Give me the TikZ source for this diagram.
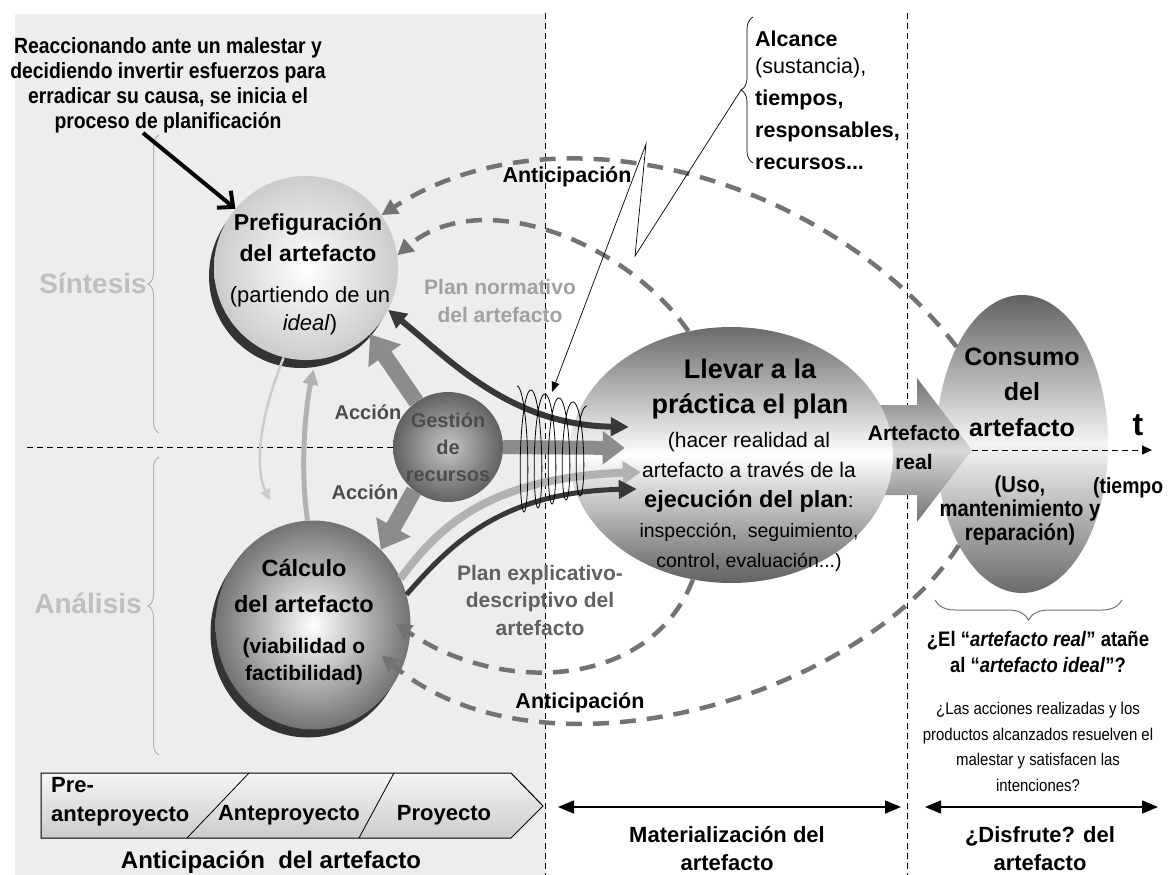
\documentclass[tikz,border=0pt]{standalone}
\usepackage{fontspec}
\setmainfont{Liberation Sans}
\newfontfamily\narrowfont[FakeStretch=0.88]{Liberation Sans}
\usetikzlibrary{arrows.meta,shapes.geometric,positioning,shadows,calc,decorations.pathreplacing}

\definecolor{bggray}{gray}{0.93}
\definecolor{shadowgray}{gray}{0.2}
\definecolor{arrowgray}{gray}{0.55}
\definecolor{dashgray}{gray}{0.45}
\definecolor{palegray}{gray}{0.8}
\definecolor{softgray}{gray}{0.7}
\definecolor{darkline}{gray}{0.22}
\definecolor{textgray}{gray}{0.3}
\definecolor{plangray}{gray}{0.63}
\definecolor{explgray}{gray}{0.38}
\definecolor{sidegray}{gray}{0.75}

\begin{document}
\begin{tikzpicture}[x=1pt, y=-1pt,
    every node/.style = {inner sep=0pt},
    sphere/.style   = {circle, draw=none},
    egg/.style      = {ellipse, draw=none},
    crescent/.style = {drop shadow={shadow xshift=-5pt, shadow yshift=-8pt,
                        fill=shadowgray, opacity=1}},
    guide/.style    = {draw=black, line width=1pt, dash pattern=on 6pt off 4pt},
    curly/.style    = {decorate, decoration={brace, amplitude=#1}},
    antic/.style    = {draw=dashgray, line width=4.5pt, dash pattern=on 16pt off 11pt,
                        -{Triangle[length=16pt,width=16pt]}},
    fatarrow/.style = {draw=arrowgray, line width=16pt, -{Triangle[length=26pt,width=38pt]}},
    headtxt/.style  = {align=center, font=\fontsize{23}{31}\selectfont\bfseries},
    subtxt/.style   = {align=center, font=\fontsize{22}{28}\selectfont},
    acttxt/.style   = {font=\fontsize{20}{24}\selectfont\bfseries, text=textgray},
    plantxt/.style  = {align=center, font=\fontsize{21}{28}\selectfont\bfseries},
    antictxt/.style = {font=\fontsize{21.5}{26}\selectfont\bfseries},
    sidetxt/.style  = {font=\fontsize{28}{30}\selectfont\bfseries, text=sidegray},
    narrowtxt/.style = {align=center, font=\narrowfont\fontsize{22}{25}\selectfont\bfseries},
    steptxt/.style  = {font=\fontsize{22}{29}\selectfont\bfseries},
  ]
  \useasboundingbox (0,0) rectangle (1173,875);
  \clip (0,0) rectangle (1173,875);
  \fill[bggray] (15,14) rectangle (545,875);
  \draw[guide] (545,13) -- (545,875);
  \draw[guide] (907,13) -- (907,875);

  % side labels
  \node[sidetxt] (sintesis) at (93,283) {Síntesis};
  \node[sidetxt] (analisis) at (88,603) {Análisis};
  \draw[draw=softgray, line width=1pt, curly=11pt] (159,433) -- (159,135);
  \draw[draw=softgray, line width=1pt, curly=11pt] (159,755) -- (159,457);

  % Define nodes
  \node[egg, minimum width=172pt, minimum height=298pt, shade,
        top color=black!62, bottom color=black!58, middle color=black!4] (cons) at (1022,444) {};
  \shade[top color=black!55, bottom color=black!55, middle color=black!15]
        (880,405) -- (917,405) -- (917,378) -- (972,450) -- (917,522) -- (917,495) -- (880,495) -- cycle;
  \node[egg, minimum width=324pt, minimum height=256pt, shade,
        top color=black!58, bottom color=black!62, middle color=white] (llevar) at (731,455) {};
  \node[sphere, crescent, minimum size=184pt, shade,
        inner color=white, outer color=black!20] (pref) at (306,268) {};
  \node[egg, crescent, minimum width=195pt, minimum height=209pt, shade,
        inner color=white, outer color=black!55] (calc) at (313,625) {};
  \node[sphere, minimum size=110pt, shade,
        inner color=black!22, outer color=black!62] (gest) at (448,447) {};
  \draw[guide] (27,447) -- (gest.west);

  % anticipation loops
  \begin{scope}[every path/.style=antic]
    \path (cons.124) .. controls (830,180) and (560,100) .. (pref.35);
    \path (llevar.109) .. controls (625,240) and (480,185) .. (pref.8);
    \path[shorten >=-18pt] (llevar.253) .. controls (650,690) and (500,695) .. (calc.-5);
    \path[shorten >=-25pt] (cons.238) .. controls (860,700) and (540,790) .. (calc.-28);
  \end{scope}

  % connect all nodes defined above
  \draw[fatarrow] (gest.125) -- (pref.-46);
  \draw[fatarrow] (gest.232) -- (calc.48);
  \draw[draw=palegray, line width=2.5pt, shorten >=28pt, -{Triangle[length=11pt,width=11pt]}]
        (pref.256) .. controls (258,420) and (255,470) .. (calc.107);
  \draw[draw=softgray, line width=5pt, shorten >=10pt, -{Triangle[length=15pt,width=15pt]}]
        (calc.93) .. controls (300,470) and (305,410) .. (pref.276);
  \draw[draw=arrowgray, line width=14pt, -{Triangle[length=22pt,width=32pt]}]
        (gest.east) -- ($(llevar.west)+(56,-7)$);
  \draw[draw=darkline, line width=6pt, {Triangle[length=18pt,width=18pt]}-{Triangle[length=18pt,width=18pt]}]
        (pref.-27) .. controls (450,360) and (510,425) .. ($(llevar.west)+(60,-28)$);
  \draw[draw=softgray, line width=8pt, -{Triangle[length=18pt,width=22pt]}]
        (calc.28) .. controls (440,525) and (490,478) .. ($(llevar.west)+(72,17)$);
  \draw[draw=darkline, line width=5pt, -{Triangle[length=18pt,width=18pt]}]
        (calc.18) .. controls (450,545) and (500,492) .. ($(llevar.west)+(68,34)$);

  % coil
  \draw[line width=0.8pt] plot[domain=0:5, samples=361, smooth, variable=\u]
        ({517+14*\u+7*sin(360*\u)}, {450-(64-4*\u)*cos(360*\u)});

  % callout to the coil
  \node[align=left, anchor=west, font=\fontsize{21.5}{32}\selectfont\bfseries] (alcance) at (755,100)
        {Alcance\\[-5pt]{\mdseries (sustancia),}\\tiempos,\\responsables,\\recursos...};
  \draw[line width=0.7pt, curly=12pt] (753,163) -- (753,17);
  \coordinate (cusp) at (741,90);
  \coordinate (zigA) at (635,256);
  \coordinate (zigB) at (646,144);
  \coordinate (coiltip) at (552,392);
  \draw[line width=0.7pt, -{Triangle[length=10pt,width=8pt]}] (cusp) -- (zigA) -- (zigB) -- (coiltip);

  % time axis
  \coordinate (arttip) at (972,450);
  \coordinate (tend) at (1152,450);
  \draw[guide, -{Triangle[length=10pt,width=9pt]}] (arttip) -- (tend);
  \node[font=\fontsize{32}{34}\selectfont\bfseries] (tmark) at (1138,425) {t};
  \node[narrowtxt, anchor=west] (tiempo) at (1093,488) {(tiempo};

  % texts
  \node[narrowtxt] (reacc) at (168,85)
        {Reaccionando ante un malestar y\\decidiendo invertir esfuerzos para\\erradicar su causa, se inicia el\\proceso de planificación};
  \draw[line width=4pt, -{Straight Barb[length=12pt,width=22pt]}] ($(reacc.south)+(-25,0)$) -- (pref.140);

  \node[headtxt] (preftitle) at ($(pref)+(2,-30)$) {Prefiguración\\del artefacto};
  \node[subtxt] (prefsub) at ($(pref)+(4,43)$) {(partiendo de un\\\textit{ideal})};
  \node[headtxt, font=\fontsize{23.5}{36}\selectfont\bfseries] (calctitle) at ($(calc)+(-9,-39)$) {Cálculo\\del artefacto};
  \node[headtxt, font=\fontsize{21}{27}\selectfont\bfseries] (calcsub) at ($(calc)+(-9,37)$) {(viabilidad o\\factibilidad)};
  \node[align=center, font=\fontsize{20}{27}\selectfont\bfseries, text=textgray] (gesttxt) at (gest) {Gestión\\de\\recursos};
  \node[acttxt] (accionA) at (368,412) {Acción};
  \node[acttxt] (accionB) at (365,492) {Acción};

  \node[plantxt, text=plangray] (normativo) at (500,301) {Plan normativo\\del artefacto};
  \node[plantxt, font=\fontsize{21}{27.5}\selectfont\bfseries, text=explgray] (explicativo) at (540,600)
        {Plan explicativo-\\descriptivo del\\artefacto};
  \node[antictxt] (anticU) at (567,177) {Anticipación};
  \node[antictxt] (anticL) at (580,703) {Anticipación};

  \node[align=center, font=\fontsize{27}{35}\selectfont\bfseries] (llevarA) at ($(llevar)+(19,-66)$)
        {Llevar a la\\práctica el plan};
  \node[align=center, font=\fontsize{21}{30}\selectfont] (llevarB) at ($(llevar)+(18,47)$)
        {(hacer realidad al\\artefacto a través de la\\{\fontsize{23.5}{30}\selectfont\bfseries ejecución del plan}:\\
         {\fontsize{19.5}{30}\selectfont inspección,\ \ seguimiento,}\\{\fontsize{19.5}{30}\selectfont control, evaluación...)}};
  \node[align=center, font=\fontsize{21}{29}\selectfont\bfseries] (artreal) at (914,447) {Artefacto\\real};

  \node[align=center, font=\fontsize{25}{35.5}\selectfont\bfseries] (consA) at ($(cons)+(0,-52)$)
        {Consumo\\del\\artefacto};
  \node[narrowtxt, font=\narrowfont\fontsize{23}{24}\selectfont\bfseries] (consB) at ($(cons)+(-2,67)$)
        {(Uso,\\mantenimiento y\\reparación)};
  \draw[draw=black!55, line width=1pt, curly=20pt] (1122,600) -- (935,600);
  \node[narrowtxt, font=\narrowfont\fontsize{21}{26}\selectfont\bfseries] (question) at (1038,652)
        {¿El “\textit{artefacto real}” atañe\\al “\textit{artefacto ideal}”?};
  \node[align=center, font=\narrowfont\fontsize{17}{25.5}\selectfont] (smallq) at (1038,747)
        {¿Las acciones realizadas y los\\productos alcanzados resuelven el\\malestar y satisfacen las\\intenciones?};

  % phases
  \draw[line width=1pt, top color=black!4, bottom color=black!20]
        (41,773) -- (511,773) -- (543,806) -- (511,838) -- (41,838) -- cycle;
  \draw[line width=0.8pt] (249,773) -- (187,838);
  \draw[line width=0.8pt] (394,773) -- (359,838);
  \node[steptxt, align=left, anchor=west] (preante) at (51,802) {Pre-\\anteproyecto};
  \node[steptxt] (ante) at (289,815) {Anteproyecto};
  \node[steptxt] (proy) at (444,815) {Proyecto};
  \node[font=\fontsize{24}{28}\selectfont\bfseries] (anticart) at (271,862) {Anticipación\ \ del artefacto};

  \coordinate (matL) at (558,807);
  \coordinate (matR) at (901,807);
  \coordinate (disL) at (925,807);
  \coordinate (disR) at (1158,807);
  \draw[line width=1.5pt, {Triangle[length=16pt,width=13pt]}-{Triangle[length=16pt,width=13pt]}] (matL) -- (matR);
  \draw[line width=1.5pt, {Triangle[length=16pt,width=13pt]}-{Triangle[length=16pt,width=13pt]}] (disL) -- (disR);
  \node[align=center, font=\fontsize{22}{28}\selectfont\bfseries] (matlabel) at (727,849) {Materialización del\\artefacto};
  \node[align=center, font=\fontsize{22}{28}\selectfont\bfseries] (dislabel) at (1040,849) {¿Disfrute? del\\artefacto};
\end{tikzpicture}
\end{document}
